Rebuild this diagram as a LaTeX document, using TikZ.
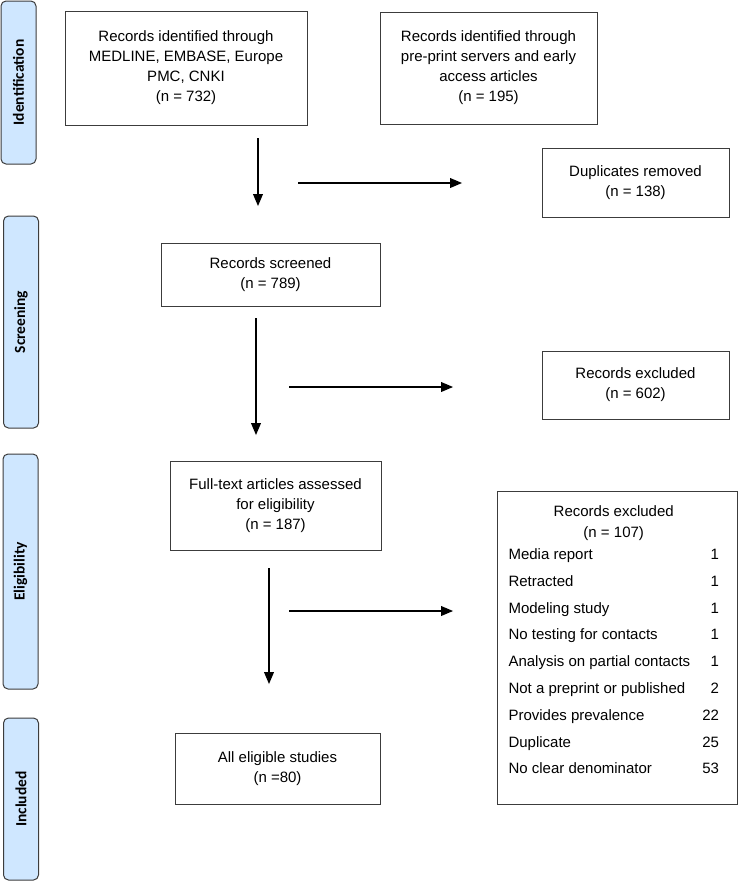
\documentclass[tikz,border=0pt]{standalone}
\usepackage{fontspec}
\setmainfont{Liberation Sans}
\newfontfamily\stagefont{Carlito}
\usetikzlibrary{shapes.geometric, arrows}
\usetikzlibrary{positioning}
\definecolor{stageblue}{RGB}{207,231,255}
\definecolor{boxline}{RGB}{60,60,60}
\tikzset{
	stage/.style={rectangle, rounded corners=5pt, rotate=90, minimum height=35pt, text centered, draw=boxline, line width=1pt, fill=stageblue, font=\stagefont\bfseries\fontsize{15.5}{18}\selectfont},
	record/.style={rectangle, align=center, draw=boxline, line width=1pt, font=\fontsize{15}{20}\selectfont},
	arrow/.style={line width=1.8pt,->,>=triangle 45}
}

\begin{document}
\begin{tikzpicture}[x=1pt,y=-1pt]
		\useasboundingbox (0,0) rectangle (738,884);
		
		% Stages
		\node (ident) [stage, minimum width=163pt] at (18.5,82.5) {Identification};
		\node (screen) [stage, minimum width=212pt] at (21,322) {Screening};
		\node (elig) [stage, minimum width=235pt] at (20.5,571.5) {Eligibility};
		\node (incl) [stage, minimum width=162pt] at (21,799) {Included};
		
		% Nodes
		\node (dbase) [record, minimum width=242pt, minimum height=114pt] at (186,68) {Records identified through\\MEDLINE, EMBASE, Europe\\PMC, CNKI\\(n = 732)};
		\node (preprint) [record, minimum width=217pt, minimum height=112pt] at (488.5,68) {Records identified through\\pre-print servers and early\\access articles\\(n = 195)};
		\node (dupl) [record, minimum width=187pt, minimum height=69pt] at (635.5,182.5) {Duplicates removed\\(n = 138)};
		\node (screened) [record, minimum width=219pt, minimum height=63pt] at (270.5,274.5) {Records screened\\(n = 789)};
		\node (excla) [record, minimum width=187pt, minimum height=68pt] at (635.5,385) {Records excluded\\(n = 602)};
		\node (fulltext) [record, minimum width=211pt, minimum height=89pt] at (275.5,505.5) {Full-text articles assessed\\for eligibility\\(n = 187)};
		\node (exclb) [record, minimum width=240pt, minimum height=313pt] at (617,647.5) {};
		\node (exclbtxt) [anchor=north, font=\fontsize{15}{20.5}\selectfont, inner sep=0pt] at (613,502) {%
			\begin{tabular*}{209pt}{@{\extracolsep{\fill}}lr@{}}
				\multicolumn{2}{c}{Records excluded}\\[0.5pt]
				\multicolumn{2}{c}{(n = 107)}\\[1.5pt]
				Media report & 1\\[6.3pt]
				Retracted & 1\\[6.3pt]
				Modeling study & 1\\[6.3pt]
				No testing for contacts & 1\\[6.3pt]
				Analysis on partial contacts & 1\\[6.3pt]
				Not a preprint or published & 2\\[6.3pt]
				Provides prevalence & 22\\[6.3pt]
				Duplicate & 25\\[6.3pt]
				No clear denominator & 53
			\end{tabular*}};
		\node (eligible) [record, minimum width=205pt, minimum height=71pt] at (277.5,768.5) {All eligible studies\\(n =80)};
		
		% Arrow ends
		\coordinate (down1a) at (258,138);
		\coordinate (down1b) at (258,206);
		\coordinate (side1a) at (298,183);
		\coordinate (side1b) at (462,183);
		\coordinate (down2a) at (256,318);
		\coordinate (down2b) at (256,435);
		\coordinate (side2a) at (289,387);
		\coordinate (side2b) at (453,387);
		\coordinate (down3a) at (269,568);
		\coordinate (down3b) at (269,684);
		\coordinate (side3a) at (289,611);
		\coordinate (side3b) at (453,611);
		
		% Arrows
		\draw [arrow] (down1a) -- (down1b);
		\draw [arrow] (side1a) -- (side1b);
		\draw [arrow] (down2a) -- (down2b);
		\draw [arrow] (side2a) -- (side2b);
		\draw [arrow] (down3a) -- (down3b);
		\draw [arrow] (side3a) -- (side3b);
		
	\end{tikzpicture}
\end{document}
